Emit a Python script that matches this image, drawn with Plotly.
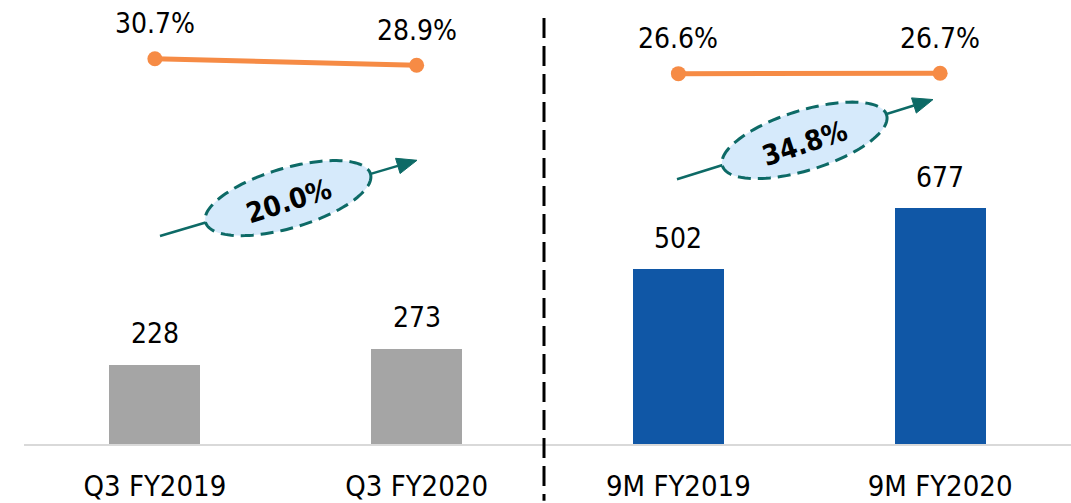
import numpy as np
import plotly.graph_objects as go

# ---------------- data ----------------
categories = ["Q3 FY2019", "Q3 FY2020", "9M FY2019", "9M FY2020"]
bar_values = [228, 273, 502, 677]
bar_colors = ["#A5A5A5", "#A5A5A5", "#1057A6", "#1057A6"]
margin_q3 = [30.7, 28.9]
margin_9m = [26.6, 26.7]
growth_labels = ["20.0%", "34.8%"]

# ---------------- layout constants ----------------
W, H = 1071, 503
ML, MR, MT, MB = 24, 0, 0, 57
PW = W - ML - MR
PH = H - MT - MB
FONT = "DejaVu Sans Condensed, DejaVu Sans, Verdana, sans-serif"
ORANGE = "#F68B45"
TEAL = "#0D6A66"


def px_to_paper(px, py):
    return (px - ML) / PW, (H - MB - py) / PH


fig = go.Figure()

fig.add_trace(go.Bar(
    x=categories, y=bar_values, width=0.348,
    marker=dict(color=bar_colors, line=dict(width=0)),
    hoverinfo="skip", showlegend=False,
))

for cats, vals in ((categories[:2], margin_q3), (categories[2:], margin_9m)):
    fig.add_trace(go.Scatter(
        x=cats, y=vals, yaxis="y2", mode="lines+markers",
        line=dict(color=ORANGE, width=5),
        marker=dict(color=ORANGE, size=15),
        hoverinfo="skip", showlegend=False,
    ))

annotations = []
for c, v in zip(categories, bar_values):
    annotations.append(dict(x=c, y=v, xref="x", yref="y", text=str(v),
                            showarrow=False, yanchor="middle", yshift=31,
                            font=dict(family=FONT, size=28, color="black")))
for c, v in zip(categories, margin_q3 + margin_9m):
    annotations.append(dict(x=c, y=v, xref="x", yref="y2", text=f"{v:.1f}%",
                            showarrow=False, yanchor="middle", yshift=35,
                            font=dict(family=FONT, size=28, color="black")))

shapes = []
# dashed divider
x_div, _ = px_to_paper(544, 0)
_, y_top = px_to_paper(0, 18)
_, y_bot = px_to_paper(0, 503)
shapes.append(dict(type="line", xref="paper", yref="paper",
                   x0=x_div, x1=x_div, y0=y_top, y1=y_bot,
                   line=dict(color="black", width=3, dash="20px,8px"), layer="above"))

# growth arrows + ellipses (pixel geometry)
growth_geom = [
    dict(tail=(160, 237), tip=(417, 161), center=(288, 199)),
    dict(tail=(677, 180), tip=(933, 100), center=(804.5, 141)),
]
for g, label in zip(growth_geom, growth_labels):
    tx, ty = g["tail"]
    hx, hy = g["tip"]
    d = np.array([hx - tx, hy - ty], dtype=float)
    L = np.hypot(*d)
    u = d / L
    n = np.array([-u[1], u[0]])
    base = np.array([hx, hy]) - 20 * u
    p0 = px_to_paper(tx, ty)
    p1 = px_to_paper(*base)
    shapes.append(dict(type="line", xref="paper", yref="paper",
                       x0=p0[0], y0=p0[1], x1=p1[0], y1=p1[1],
                       line=dict(color=TEAL, width=2.5), layer="above"))
    pts = [np.array([hx, hy]), base + 8 * n, base - 8 * n]
    pp = [px_to_paper(*p) for p in pts]
    path = "M {} {} L {} {} L {} {} Z".format(*[c for p in pp for c in p])
    shapes.append(dict(type="path", xref="paper", yref="paper", path=path,
                       fillcolor=TEAL, line=dict(color=TEAL, width=1), layer="above"))
    ang = np.arctan2(d[1], d[0])
    t = np.linspace(0, 2 * np.pi, 120)
    a, b = 86, 30
    cx, cy = g["center"]
    ex = cx + a * np.cos(t) * np.cos(ang) - b * np.sin(t) * np.sin(ang)
    ey = cy + a * np.cos(t) * np.sin(ang) + b * np.sin(t) * np.cos(ang)
    pe = [px_to_paper(x, y) for x, y in zip(ex, ey)]
    epath = "M " + " L ".join(f"{x:.5f} {y:.5f}" for x, y in pe) + " Z"
    shapes.append(dict(type="path", xref="paper", yref="paper", path=epath,
                       fillcolor="#D6EAFB",
                       line=dict(color=TEAL, width=3, dash="13px,7px"), layer="above"))
    cxp, cyp = px_to_paper(cx, cy + 3)
    annotations.append(dict(x=cxp, y=cyp, xref="paper", yref="paper",
                            text=f"<b>{label}</b>", showarrow=False,
                            textangle=np.degrees(ang) - 1,
                            xanchor="center", yanchor="middle",
                            font=dict(family=FONT, size=28, color="black")))

fig.update_layout(
    width=W, height=H,
    margin=dict(l=ML, r=MR, t=MT, b=MB),
    paper_bgcolor="white", plot_bgcolor="white",
    xaxis=dict(showline=True, linecolor="#D9D9D9", linewidth=2, ticks="",
               showgrid=False, zeroline=False, range=[-0.5, 3.5],
               ticklabelstandoff=15,
               tickfont=dict(family=FONT, size=29, color="black")),
    yaxis=dict(range=[0, PH / 0.35], visible=False, showgrid=False, zeroline=False),
    yaxis2=dict(range=[-75.6, 46.92], overlaying="y", visible=False,
                showgrid=False, zeroline=False),
    shapes=shapes, annotations=annotations,
    bargap=0,
)

fig.write_html("out.html", config={"displayModeBar": False},
               post_script="document.body.style.margin='0';")
